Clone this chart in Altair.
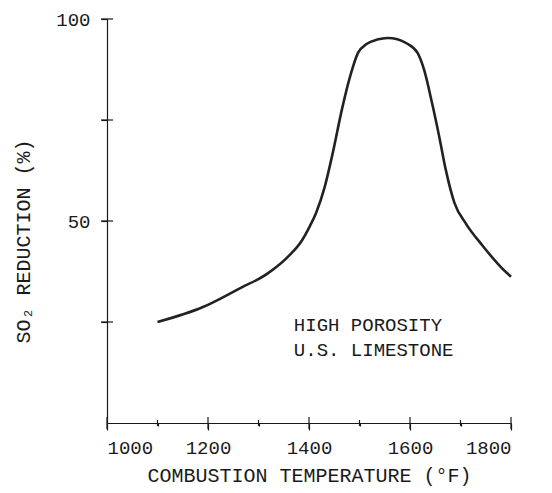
import altair as alt
import pandas as pd

# Curve
temps = [1100, 1190, 1264, 1317, 1362, 1385, 1402, 1414, 1431, 1447, 1465, 1481, 1497,
         1514, 1535, 1556, 1575, 1593, 1615, 1628, 1644, 1658, 1671, 1688, 1711, 1743,
         1780, 1800]
reduction = [25.0, 28.7, 33.4, 36.9, 41.6, 45.0, 48.8, 52.0, 58.4, 66.8, 77.5, 85.6, 91.6,
             93.8, 94.9, 95.3, 95.0, 94.0, 91.6, 87.4, 79.0, 70.8, 62.6, 54.5, 49.3, 44.0,
             38.6, 36.2]

x_major = [1000, 1200, 1400, 1600, 1800]
x_minor = [1100, 1300, 1500, 1700]
y_ticks = [25, 50, 75, 100]

note_lines = ["HIGH POROSITY", "U.S. LIMESTONE"]
note_x = [1370, 1370]
note_y = [24.3, 18.1]

df = pd.DataFrame({"T": temps, "R": reduction})
notes = pd.DataFrame({"T": note_x, "R": note_y, "txt": note_lines})
xmaj_df = pd.DataFrame({"T": x_major, "R": [0] * len(x_major)})
xmin_df = pd.DataFrame({"T": x_minor, "R": [0] * len(x_minor)})
yt_df = pd.DataFrame({"T": [1000] * len(y_ticks), "R": y_ticks})

FONT = "Liberation Mono"
INK = "#1a1a1a"

xscale = alt.Scale(domain=[1000, 1800], nice=False, zero=False)
yscale = alt.Scale(domain=[0, 100], nice=False, zero=True)

main = alt.Chart(df).mark_line(color="#222222", strokeWidth=2.6, interpolate="monotone").encode(
    x=alt.X("T:Q", scale=xscale, axis=alt.Axis(
        orient="bottom",
        values=sorted(x_major + x_minor),
        labelExpr="datum.value % 200 === 0 ? format(datum.value, 'd') : ''",
        tickSize={"condition": {"test": "datum.value % 200 === 0", "value": 7}, "value": 3},
        labelPadding=8,
        title="COMBUSTION TEMPERATURE (°F)",
        titleY=52, titleBaseline="middle",
    )),
    y=alt.Y("R:Q", scale=yscale, axis=alt.Axis(
        orient="left",
        values=y_ticks,
        labelExpr="datum.value % 50 === 0 ? datum.label : ''",
        tickSize=6,
        labelPadding=11,
        title="SO₂ REDUCTION (%)",
        titleAngle=-90, titleX=-84, titleY=222, titleBaseline="middle", titleAlign="center",
    )),
)

# crossing tick marks at the tick values on the axis lines
xmaj_ticks = alt.Chart(xmaj_df).mark_rule(color=INK, strokeWidth=1.2, yOffset=-6, y2Offset=6).encode(
    x=alt.X("T:Q", axis=None),
    y=alt.Y("R:Q", axis=None),
    y2=alt.Y2("R"),
)
xmin_ticks = alt.Chart(xmin_df).mark_rule(color=INK, strokeWidth=1.2, yOffset=-3, y2Offset=3).encode(
    x=alt.X("T:Q", axis=None),
    y=alt.Y("R:Q", axis=None),
    y2=alt.Y2("R"),
)
y_tick_marks = alt.Chart(yt_df).mark_rule(color=INK, strokeWidth=1.2, xOffset=-6, x2Offset=6).encode(
    x=alt.X("T:Q", axis=None),
    x2=alt.X2("T"),
    y=alt.Y("R:Q", axis=None),
)

text = alt.Chart(notes).mark_text(
    align="left", baseline="middle", font=FONT, fontSize=19, color=INK
).encode(
    x=alt.X("T:Q", axis=None),
    y=alt.Y("R:Q", axis=None),
    text="txt:N",
)

chart = alt.layer(main, xmaj_ticks, xmin_ticks, y_tick_marks, text).resolve_axis(
    x="independent", y="independent"
).properties(
    width=404, height=404,
    autosize=alt.AutoSizeParams(type="none"),
    padding={"left": 99, "top": 11, "right": 33, "bottom": 70},
    background="white",
).configure_view(stroke=None).configure_axis(
    domainColor=INK, domainWidth=1.2, tickColor=INK, tickWidth=1.2,
    labelFont=FONT, labelFontSize=19, labelColor=INK,
    titleFont=FONT, titleFontSize=20, titleColor=INK, titleFontWeight="normal",
    grid=False,
)

chart.save("out.html", embed_options={"renderer": "svg", "actions": False})
